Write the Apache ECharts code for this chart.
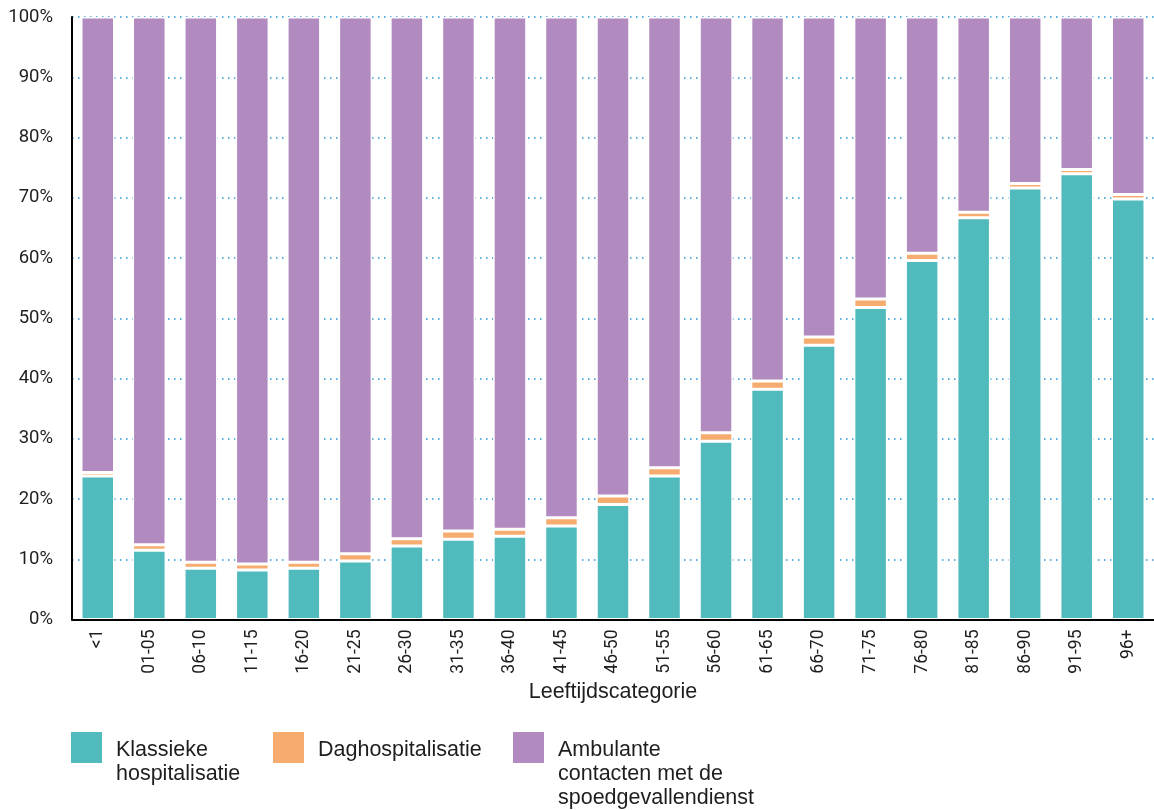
<!DOCTYPE html>
<html>
<head>
<meta charset="utf-8">
<script src="https://cdn.jsdelivr.net/npm/echarts@6/dist/echarts.min.js"></script>
<style>
  html, body { margin: 0; padding: 0; background: #fff; }
  #chart { width: 1154px; height: 810px; }
</style>
</head>
<body>
<div id="chart"></div>
<script>
// Age groups on the category axis
const categories = ['<1', '01-05', '06-10', '11-15', '16-20', '21-25', '26-30', '31-35', '36-40', '41-45',
  '46-50', '51-55', '56-60', '61-65', '66-70', '71-75', '76-80', '81-85', '86-90', '91-95', '96+'];

// Share of each contact type per age group (%)
const klassieke = [23.8, 11.5, 8.5, 8.2, 8.5, 9.7, 12.2, 13.3, 13.8, 15.5,
  19.1, 23.8, 29.6, 38.2, 45.5, 51.8, 59.6, 66.7, 71.6, 74.0, 69.8];
const daghosp = [0.6, 0.9, 1.0, 1.0, 1.0, 1.2, 1.2, 1.4, 1.2, 1.4,
  1.4, 1.4, 1.4, 1.4, 1.4, 1.4, 1.2, 0.9, 0.75, 0.7, 0.75];
const ambulant = [75.6, 87.6, 90.5, 90.8, 90.5, 89.1, 86.6, 85.3, 85.0, 83.1,
  79.5, 74.8, 69.0, 60.4, 53.1, 46.8, 39.2, 32.4, 27.65, 25.3, 29.45];

const seriesNames = ['Klassieke\nhospitalisatie', 'Daghospitalisatie', 'Ambulante\ncontacten met de\nspoedgevallendienst'];
const seriesColors = ['#50babd', '#f6ac6f', '#b18bc0'];
const yTicks = { min: 0, max: 100, interval: 10 };

const numFont = "Roboto, 'DejaVu Sans Condensed', sans-serif";
const textFont = "'Liberation Sans', Arial, sans-serif";
const textColor = '#1e1e1e';

const chart = echarts.init(document.getElementById('chart'), null, { renderer: 'canvas' });

function barSeries(name, data, color) {
  return {
    name: name,
    type: 'bar',
    stack: 'total',
    data: data,
    barWidth: 33.5,
    itemStyle: { color: color, borderColor: '#ffffff', borderWidth: 1.5 },
    emphasis: { disabled: true },
    animation: false
  };
}

// Legend drawn as swatches with left-aligned, top-aligned multi-line labels
const legendX = [71, 273, 513];
const legendGraphics = [];
seriesNames.forEach(function (name, i) {
  legendGraphics.push({
    type: 'rect',
    left: legendX[i], top: 732,
    shape: { width: 31, height: 31 },
    style: { fill: seriesColors[i] }
  });
  legendGraphics.push({
    type: 'text',
    left: legendX[i] + 45, top: 738,
    style: {
      text: name,
      font: '21.5px ' + textFont,
      lineHeight: 24,
      fill: textColor
    }
  });
});

chart.setOption({
  animation: false,
  grid: { left: 72, top: 17, width: 1086, height: 602.5 },
  xAxis: {
    type: 'category',
    data: categories,
    z: 5,
    axisLine: { show: true, lineStyle: { color: '#000', width: 2 } },
    axisTick: { show: false },
    axisLabel: {
      rotate: 90,
      margin: 10,
      interval: 0,
      color: textColor,
      fontFamily: numFont,
      fontSize: 17.5
    },
    name: 'Leeftijdscategorie',
    nameLocation: 'middle',
    nameGap: 57,
    nameTextStyle: { color: textColor, fontFamily: textFont, fontSize: 21.5 }
  },
  yAxis: {
    type: 'value',
    min: yTicks.min,
    max: yTicks.max,
    interval: yTicks.interval,
    axisLine: { show: true, lineStyle: { color: '#000', width: 2 } },
    axisTick: { show: false },
    axisLabel: {
      formatter: '{value}%',
      margin: 19,
      color: textColor,
      fontFamily: numFont,
      fontSize: 18.5,
      padding: [6, 0, 0, 0]
    },
    splitLine: {
      show: true,
      lineStyle: { color: '#2596d6', width: 1.5, type: [1.5, 4.5] }
    }
  },
  series: [
    barSeries(seriesNames[0], klassieke, seriesColors[0]),
    barSeries(seriesNames[1], daghosp, seriesColors[1]),
    barSeries(seriesNames[2], ambulant, seriesColors[2])
  ],
  graphic: legendGraphics
});
</script>
</body>
</html>
